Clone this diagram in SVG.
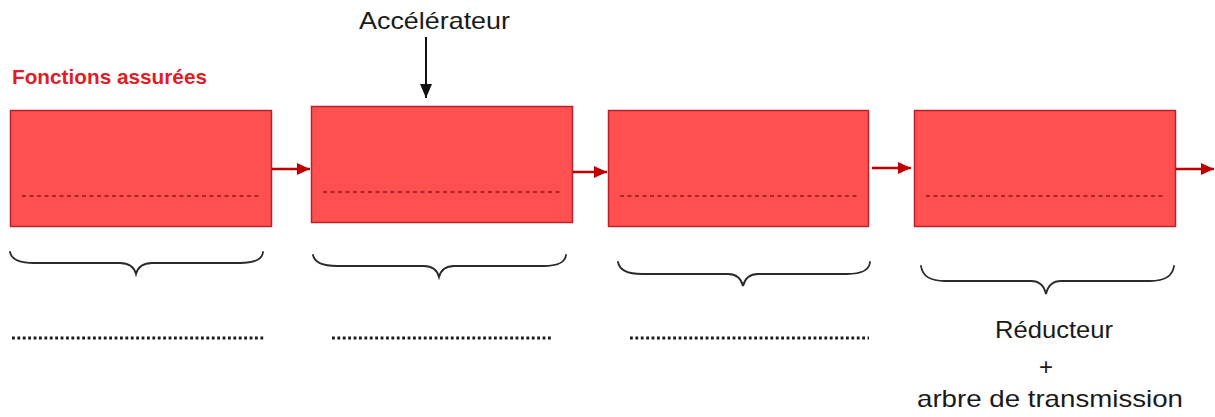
<svg xmlns="http://www.w3.org/2000/svg" width="1215" height="417" viewBox="0 0 1215 417">
  <style>
    .block { fill: #ff5050; stroke: #b8232b; stroke-width: 1.5; }
    .guide { stroke: #8e1a1a; stroke-width: 1.3; stroke-dasharray: 4 3.5; fill: none; }
    .flow { stroke: #c00000; stroke-width: 2.5; fill: none; }
    .input { stroke: #111; stroke-width: 2; fill: none; }
    .brace { stroke: #2a2a2a; stroke-width: 1.8; fill: none; stroke-linecap: round; }
    .blank { stroke: #1a1a1a; stroke-width: 2.8; stroke-dasharray: 2.8 2.6; fill: none; }
    .label { font-family: "Liberation Sans", Arial, sans-serif; font-size: 24px; fill: #1a1a1a; }
    .title { font-family: "Liberation Sans", Arial, sans-serif; font-size: 20.5px; font-weight: bold; fill: #e31b23; }
  </style>
  <defs>
    <marker id="redHead" markerUnits="userSpaceOnUse" markerWidth="14" markerHeight="14" refX="13" refY="7" orient="auto">
      <path d="M0,1 L13,7 L0,13 Z" fill="#c00000"/>
    </marker>
    <marker id="blackHead" markerUnits="userSpaceOnUse" markerWidth="14" markerHeight="16" refX="14" refY="7" orient="auto">
      <path d="M0,1 L14,7 L0,13 Z" fill="#111"/>
    </marker>
  </defs>

  <rect width="1215" height="417" fill="#ffffff"/>

  <text id="title" class="title" x="12" y="84" textLength="195" lengthAdjust="spacingAndGlyphs">Fonctions assurées</text>

  <g id="input-accelerateur">
    <text class="label" x="359" y="29" textLength="151" lengthAdjust="spacingAndGlyphs">Accélérateur</text>
  </g>

  <!-- four function blocks -->
  <g id="block-1">
    <rect class="block" x="10.5" y="110.5" width="261" height="116"/>
    <line class="guide" x1="22" y1="196" x2="260" y2="196"/>
  </g>
  <g id="block-2">
    <rect class="block" x="311.5" y="106.5" width="261" height="116"/>
    <line class="guide" x1="323" y1="192" x2="561" y2="192"/>
  </g>
  <g id="block-3">
    <rect class="block" x="608.5" y="110.5" width="260" height="116"/>
    <line class="guide" x1="620" y1="196" x2="858" y2="196"/>
  </g>
  <g id="block-4">
    <rect class="block" x="914.5" y="110.5" width="261" height="116"/>
    <line class="guide" x1="926" y1="196" x2="1164" y2="196"/>
  </g>

  <!-- connectors -->
  <g id="connectors">
    <line class="input" x1="426" y1="37" x2="426" y2="98" marker-end="url(#blackHead)"/>
    <line class="flow" x1="272" y1="169" x2="310" y2="169" marker-end="url(#redHead)"/>
    <line class="flow" x1="573" y1="172" x2="607" y2="172" marker-end="url(#redHead)"/>
    <line class="flow" x1="872" y1="168" x2="911" y2="168" marker-end="url(#redHead)"/>
    <line class="flow" x1="1176" y1="169" x2="1214" y2="169" marker-end="url(#redHead)"/>
  </g>

  <!-- braces under each block -->
  <g id="braces">
    <path class="brace" d="M10,252 Q12,263 34,263 L120,263 Q133,263 136,274 Q139,263 152,263 L240,263 Q262,263 263,252"/>
    <path class="brace" d="M313,255 Q315,266 337,266 L424,266 Q436,266 439,277 Q442,266 454,266 L543,266 Q565,266 566,255"/>
    <path class="brace" d="M618,262 Q620,274 642,274 L728,274 Q740,274 743,286 Q746,274 758,274 L847,274 Q869,274 870,262"/>
    <path class="brace" d="M921,266 Q923,281 945,281 L1031,281 Q1043,281 1046,294 Q1049,281 1061,281 L1150,281 Q1172,281 1174,266"/>
  </g>

  <!-- answer lines and the given answer -->
  <g id="answers">
    <line class="blank" x1="12" y1="338" x2="265" y2="338"/>
    <line class="blank" x1="332" y1="338" x2="552" y2="338"/>
    <line class="blank" x1="630" y1="338" x2="869" y2="338"/>
    <text class="label" x="995" y="338" textLength="118" lengthAdjust="spacingAndGlyphs">Réducteur</text>
    <text class="label" x="1046" y="375" text-anchor="middle">+</text>
    <text class="label" x="917" y="407" textLength="266" lengthAdjust="spacingAndGlyphs">arbre de transmission</text>
  </g>
</svg>
